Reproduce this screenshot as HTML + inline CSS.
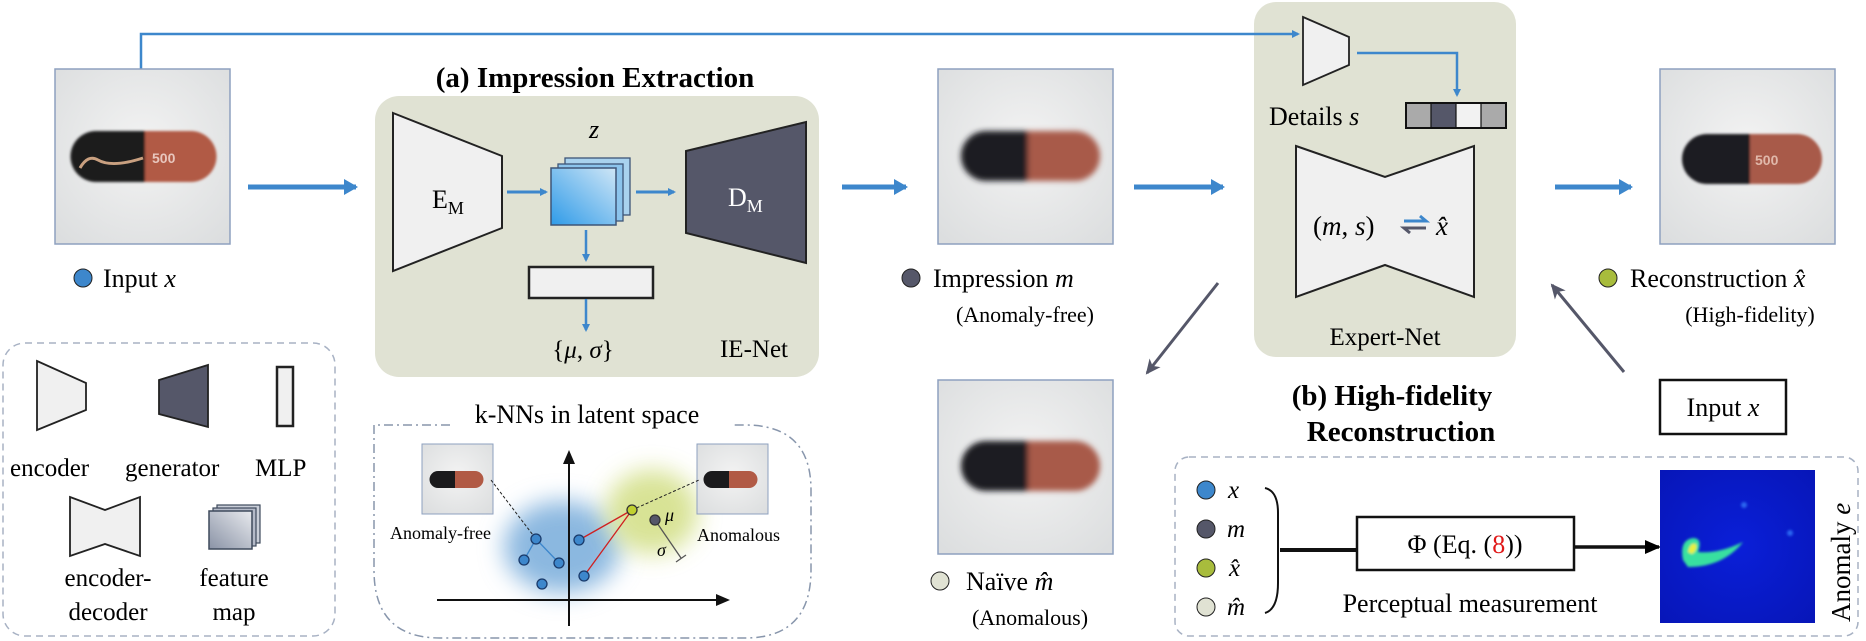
<!DOCTYPE html>
<html><head><meta charset="utf-8"><style>
html,body{margin:0;padding:0;background:#fff;}
svg{display:block;font-family:"Liberation Serif",serif;}
</style></head><body>
<svg width="1866" height="641" viewBox="0 0 1866 641" xmlns="http://www.w3.org/2000/svg">
<defs>
<radialGradient id="bg" cx="50%" cy="45%" r="70%"><stop offset="0" stop-color="#f3f3f3"/><stop offset="1" stop-color="#dcdedf"/></radialGradient>
<filter id="bl" x="-20%" y="-20%" width="140%" height="140%"><feGaussianBlur stdDeviation="3"/></filter>
<filter id="bl2" x="-20%" y="-20%" width="140%" height="140%"><feGaussianBlur stdDeviation="1.2"/></filter>
<filter id="bb" x="-50%" y="-50%" width="200%" height="200%"><feGaussianBlur stdDeviation="12"/></filter>
<linearGradient id="fm" x1="1" y1="0" x2="0" y2="1"><stop offset="0" stop-color="#cfe6f6"/><stop offset="1" stop-color="#2f9be8"/></linearGradient>
<linearGradient id="fm2" x1="1" y1="0" x2="0" y2="1"><stop offset="0" stop-color="#e8eaee"/><stop offset="1" stop-color="#8a93a6"/></linearGradient>
<radialGradient id="hm" cx="50%" cy="50%" r="70%"><stop offset="0" stop-color="#0a1fd8"/><stop offset="1" stop-color="#0716b8"/></radialGradient>
<marker id="ab" markerWidth="8" markerHeight="8" refX="6" refY="4" orient="auto" markerUnits="userSpaceOnUse"><path d="M0,0 L8,4 L0,8 z" fill="#3d87cc"/></marker>
<marker id="abb" markerWidth="14" markerHeight="16" refX="12" refY="8" orient="auto" markerUnits="userSpaceOnUse"><path d="M0,0 L14,8 L0,16 z" fill="#3d87cc"/></marker>
<marker id="ag" markerWidth="16" markerHeight="16" refX="13" refY="8" orient="auto" markerUnits="userSpaceOnUse"><path d="M0,1 L15,8 L0,15 L4,8 z" fill="#555769"/></marker>
<marker id="ak" markerWidth="16" markerHeight="14" refX="14" refY="7" orient="auto" markerUnits="userSpaceOnUse"><path d="M0,0 L16,7 L0,14 z" fill="#000"/></marker>
</defs>

<rect x="375" y="96" width="444" height="281" rx="24" fill="#e0e2d3"/>
<rect x="1254" y="2" width="262" height="355" rx="22" fill="#e0e2d3"/>

<polyline points="141,69 141,34 1298,34" fill="none" stroke="#3d87cc" stroke-width="2.5" marker-end="url(#ab)"/>

<g>
<rect x="55" y="69" width="175" height="175" fill="url(#bg)" stroke="#8ea0bf" stroke-width="1.5"/>
<g filter="url(#bl2)"><path d="M96,131 h49 v51 h-49 a25.5,25.5 0 0 1 0,-51z" fill="#1a1a1c"/><path d="M145,131 h46 a25.5,25.5 0 0 1 0,51 h-46z" fill="#b15a45"/></g>
<text x="152" y="163" font-family="Liberation Sans" font-size="14" font-weight="bold" fill="#e8c6bd">500</text>
<path d="M80,168 q8,-14 18,-8 q14,8 45,-2" stroke="#c9a080" stroke-width="3" fill="none"/>
</g>
<g>
<rect x="938" y="69" width="175" height="175" fill="url(#bg)" stroke="#8ea0bf" stroke-width="1.5"/>
<g filter="url(#bl)"><path d="M986,131 h42 v50 h-42 a25,25 0 0 1 0,-50z" fill="#1e1e22"/><path d="M1028,131 h47 a25,25 0 0 1 0,50 h-47z" fill="#a85a48"/></g>
</g>
<g>
<rect x="938" y="380" width="175" height="174" fill="url(#bg)" stroke="#8ea0bf" stroke-width="1.5"/>
<g filter="url(#bl)"><path d="M986,441 h42 v50 h-42 a25,25 0 0 1 0,-50z" fill="#1e1e22"/><path d="M1028,441 h47 a25,25 0 0 1 0,50 h-47z" fill="#a85a48"/></g>
</g>
<g>
<rect x="1660" y="69" width="175" height="175" fill="url(#bg)" stroke="#8ea0bf" stroke-width="1.5"/>
<g filter="url(#bl2)"><path d="M1707,134 h43 v50 h-43 a25,25 0 0 1 0,-50z" fill="#1e1e22"/><path d="M1750,134 h47 a25,25 0 0 1 0,50 h-47z" fill="#a85a48"/></g>
<text x="1755" y="165" font-family="Liberation Sans" font-size="14" font-weight="bold" fill="#e0b8aa">500</text>
</g>

<g stroke="#3d87cc" stroke-width="5" fill="none">
<line x1="248" y1="187" x2="356" y2="187" marker-end="url(#abb)"/>
<line x1="842" y1="187" x2="906" y2="187" marker-end="url(#abb)"/>
<line x1="1134" y1="187" x2="1223" y2="187" marker-end="url(#abb)"/>
<line x1="1555" y1="187" x2="1631" y2="187" marker-end="url(#abb)"/>
</g>

<text x="595" y="87" font-size="29" font-weight="bold" text-anchor="middle">(a) Impression Extraction</text>
<polygon points="393,113 502,156 502,228 393,271" fill="#f0f0f0" stroke="#222" stroke-width="2"/>
<text x="432" y="208" font-size="26">E<tspan font-size="18" dy="6">M</tspan></text>
<line x1="507" y1="192" x2="546" y2="192" stroke="#3d87cc" stroke-width="3" marker-end="url(#ab)"/>
<rect x="565" y="158" width="65" height="57" fill="#a9d2ee" stroke="#3e5577" stroke-width="1.3"/>
<rect x="558" y="164" width="65" height="57" fill="#8cc4ec" stroke="#3e5577" stroke-width="1.3"/>
<rect x="551" y="168" width="65" height="57" fill="url(#fm)" stroke="#3e5577" stroke-width="1.5"/>
<text x="594" y="138" font-size="26" font-style="italic" text-anchor="middle">z</text>
<line x1="636" y1="192" x2="674" y2="192" stroke="#3d87cc" stroke-width="3" marker-end="url(#ab)"/>
<polygon points="686,151 806,122 806,263 686,233" fill="#555769" stroke="#222" stroke-width="2"/>
<text x="728" y="206" font-size="26" fill="#fff">D<tspan font-size="18" dy="6">M</tspan></text>
<line x1="586" y1="230" x2="586" y2="260" stroke="#3d87cc" stroke-width="2.5" marker-end="url(#ab)"/>
<rect x="529" y="267" width="124" height="31" fill="#f0f0f0" stroke="#222" stroke-width="2.5"/>
<line x1="586" y1="299" x2="586" y2="330" stroke="#3d87cc" stroke-width="2.5" marker-end="url(#ab)"/>
<text x="583" y="358" font-size="25" text-anchor="middle">{<tspan font-style="italic">μ</tspan>, <tspan font-style="italic">σ</tspan>}</text>
<text x="754" y="357" font-size="25" text-anchor="middle">IE-Net</text>

<polygon points="1303,17 1349,37 1349,65 1303,85" fill="#f0f0f0" stroke="#222" stroke-width="1.8"/>
<polyline points="1357,53 1457,53 1457,95" fill="none" stroke="#3d87cc" stroke-width="2.5" marker-end="url(#ab)"/>
<text x="1269" y="125" font-size="26">Details <tspan font-style="italic">s</tspan></text>
<rect x="1406" y="103" width="25" height="25" fill="#aaaaaa"/><rect x="1431" y="103" width="25" height="25" fill="#555769"/><rect x="1456" y="103" width="25" height="25" fill="#f2f2f2"/><rect x="1481" y="103" width="25" height="25" fill="#aaaaaa"/>
<rect x="1406" y="103" width="100" height="25" fill="none" stroke="#111" stroke-width="2"/>
<g stroke="#111" stroke-width="1.2"><line x1="1431" y1="103" x2="1431" y2="128"/><line x1="1456" y1="103" x2="1456" y2="128"/><line x1="1481" y1="103" x2="1481" y2="128"/></g>
<polygon points="1296,146 1385,177 1474,146 1474,297 1385,265 1296,297" fill="#f0f0f0" stroke="#222" stroke-width="2"/>
<text x="1313" y="235" font-size="27">(<tspan font-style="italic">m</tspan>, <tspan font-style="italic">s</tspan>)</text>
<path d="M1404,221 h22 l-6,-5" stroke="#3d87cc" stroke-width="3" fill="none"/>
<path d="M1426,228 h-22 l6,5" stroke="#555769" stroke-width="3" fill="none"/>
<text x="1436" y="235" font-size="27" font-style="italic">x̂</text>
<text x="1385" y="345" font-size="25" text-anchor="middle">Expert-Net</text>

<circle cx="83" cy="278" r="9" fill="#3d87cc" stroke="#222" stroke-width="1"/>
<text x="103" y="287" font-size="26">Input <tspan font-style="italic">x</tspan></text>
<circle cx="911" cy="278" r="9" fill="#555769" stroke="#222" stroke-width="1"/>
<text x="933" y="287" font-size="26">Impression <tspan font-style="italic">m</tspan></text>
<text x="1025" y="322" font-size="22" text-anchor="middle">(Anomaly-free)</text>
<circle cx="1608" cy="278" r="9" fill="#a8bc3c" stroke="#222" stroke-width="1"/>
<text x="1630" y="287" font-size="26">Reconstruction <tspan font-style="italic">x̂</tspan></text>
<text x="1750" y="322" font-size="22" text-anchor="middle">(High-fidelity)</text>
<circle cx="940" cy="581" r="9" fill="#e0e2d3" stroke="#222" stroke-width="1"/>
<text x="966" y="590" font-size="26">Naïve <tspan font-style="italic">m̂</tspan></text>
<text x="1030" y="625" font-size="22" text-anchor="middle">(Anomalous)</text>

<line x1="1218" y1="283" x2="1147" y2="373" stroke="#555769" stroke-width="3" marker-end="url(#ag)"/>
<line x1="1624" y1="372" x2="1552" y2="285" stroke="#555769" stroke-width="3" marker-end="url(#ag)"/>

<text x="1392" y="405" font-size="29" font-weight="bold" text-anchor="middle">(b) High-fidelity</text>
<text x="1401" y="441" font-size="29" font-weight="bold" text-anchor="middle">Reconstruction</text>
<rect x="1660" y="380" width="126" height="54" fill="#fff" stroke="#111" stroke-width="2.5"/>
<text x="1723" y="416" font-size="26" text-anchor="middle">Input <tspan font-style="italic">x</tspan></text>

<rect x="1175" y="457" width="683" height="179" rx="14" fill="none" stroke="#a8b2c4" stroke-width="1.5" stroke-dasharray="7,5"/>
<circle cx="1206" cy="490" r="9" fill="#3d87cc" stroke="#222"/><text x="1228" y="498" font-size="25" font-style="italic">x</text>
<circle cx="1206" cy="529" r="9" fill="#555769" stroke="#222"/><text x="1227" y="537" font-size="25" font-style="italic">m</text>
<circle cx="1206" cy="568" r="9" fill="#a8bc3c" stroke="#222"/><text x="1229" y="576" font-size="25" font-style="italic">x̂</text>
<circle cx="1206" cy="607" r="9" fill="#e0e2d3" stroke="#222"/><text x="1227" y="615" font-size="25" font-style="italic">m̂</text>
<path d="M1265,488 q13,3 13,25 v70 q0,26 -13,30" fill="none" stroke="#111" stroke-width="2"/>
<line x1="1280" y1="550" x2="1357" y2="550" stroke="#111" stroke-width="4"/>
<rect x="1357" y="517" width="217" height="53" fill="#fff" stroke="#111" stroke-width="2.5"/>
<text x="1465" y="553" font-size="26" text-anchor="middle">Φ (Eq. (<tspan fill="#e01818">8</tspan>))</text>
<line x1="1574" y1="547" x2="1659" y2="547" stroke="#111" stroke-width="3.5" marker-end="url(#ak)"/>
<text x="1470" y="612" font-size="26" text-anchor="middle">Perceptual measurement</text>
<rect x="1660" y="470" width="155" height="153" fill="url(#hm)"/>
<g filter="url(#bl2)"><path d="M1683,560 q-4,-20 10,-22 q10,0 5,14 q20,2 45,-10 q-20,25 -55,25z" fill="#38e0a0"/><path d="M1688,552 q2,-10 8,-8 q2,6 -4,10z" fill="#e8f040"/><circle cx="1744" cy="505" r="3" fill="#2a66f0"/><circle cx="1790" cy="533" r="3" fill="#2a66f0"/></g>
<text transform="translate(1850,622) rotate(-90)" font-size="27">Anomaly <tspan font-style="italic">e</tspan></text>

<rect x="3" y="343" width="332" height="293" rx="22" fill="none" stroke="#a8b2c4" stroke-width="1.5" stroke-dasharray="7,5"/>
<polygon points="37,361 86,383 86,410 37,430" fill="#f0f0f0" stroke="#222" stroke-width="1.8"/>
<polygon points="159,380 208,365 208,427 159,414" fill="#555769" stroke="#222" stroke-width="1.8"/>
<rect x="277" y="367" width="16" height="59" fill="#f0f0f0" stroke="#222" stroke-width="2.5"/>
<text x="10" y="476" font-size="25">encoder</text>
<text x="125" y="476" font-size="25">generator</text>
<text x="255" y="476" font-size="25">MLP</text>
<polygon points="70,497 105,510 140,497 140,556 105,544 70,556" fill="#f0f0f0" stroke="#222" stroke-width="1.8"/>
<rect x="217" y="505" width="43" height="38" fill="#c9ced8" stroke="#3e4a5c" stroke-width="1.2"/>
<rect x="213" y="508" width="43" height="38" fill="#b4bac8" stroke="#3e4a5c" stroke-width="1.2"/>
<rect x="209" y="511" width="43" height="38" fill="url(#fm2)" stroke="#3e4a5c" stroke-width="1.5"/>
<text x="108" y="586" font-size="25" text-anchor="middle">encoder-</text>
<text x="108" y="620" font-size="25" text-anchor="middle">decoder</text>
<text x="234" y="586" font-size="25" text-anchor="middle">feature</text>
<text x="234" y="620" font-size="25" text-anchor="middle">map</text>

<text x="587" y="423" font-size="26" text-anchor="middle">k-NNs in latent space</text>
<path d="M450,425 H374 V570 Q374,638 440,638 H745 Q811,638 811,570 V490 Q811,425 745,425 H732" fill="none" stroke="#8896ac" stroke-width="1.5" stroke-dasharray="9,4,2,4"/>
<ellipse cx="562" cy="547" rx="58" ry="46" fill="#8bb8e0" filter="url(#bb)"/>
<ellipse cx="652" cy="512" rx="46" ry="42" fill="#d4e08a" filter="url(#bb)" opacity="0.9"/>
<line x1="437" y1="600" x2="722" y2="600" stroke="#111" stroke-width="2"/><path d="M730,600 l-14,-6 v12z" fill="#111"/>
<line x1="569" y1="626" x2="569" y2="458" stroke="#111" stroke-width="2"/><path d="M569,450 l-6,14 h12z" fill="#111"/>
<rect x="422" y="444" width="71" height="70" fill="url(#bg)" stroke="#8ea0bf"/>
<path d="M438,471 h17 v17 h-17 a8.5,8.5 0 0 1 0,-17z" fill="#1a1a1c"/><path d="M455,471 h20 a8.5,8.5 0 0 1 0,17 h-20z" fill="#b15a45"/>
<rect x="697" y="444" width="71" height="70" fill="url(#bg)" stroke="#8ea0bf"/>
<path d="M712,471 h17 v17 h-17 a8.5,8.5 0 0 1 0,-17z" fill="#1a1a1c"/><path d="M729,471 h20 a8.5,8.5 0 0 1 0,17 h-20z" fill="#b15a45"/>
<line x1="491" y1="480" x2="536" y2="539" stroke="#222" stroke-width="1" stroke-dasharray="3,2"/>
<line x1="632" y1="510" x2="699" y2="480" stroke="#222" stroke-width="1" stroke-dasharray="3,2"/>
<g stroke="#3d87cc" stroke-width="1.3"><line x1="536" y1="539" x2="524" y2="560"/><line x1="536" y1="539" x2="559" y2="563"/></g>
<g stroke="#d02020" stroke-width="1.3"><line x1="632" y1="510" x2="579" y2="540"/><line x1="632" y1="510" x2="584" y2="576"/></g>
<line x1="655" y1="520" x2="681" y2="558" stroke="#555" stroke-width="1.3"/><line x1="676" y1="562" x2="686" y2="555" stroke="#555" stroke-width="1.3"/>
<g stroke="#1a3a6a" stroke-width="1.3" fill="#3d87cc"><circle cx="536" cy="539" r="5"/><circle cx="524" cy="560" r="5"/><circle cx="559" cy="563" r="5"/><circle cx="542" cy="584" r="5"/><circle cx="579" cy="540" r="5"/><circle cx="584" cy="576" r="5"/></g>
<circle cx="632" cy="510" r="5" fill="#c0d030" stroke="#333" stroke-width="1.3"/>
<circle cx="655" cy="520" r="5" fill="#555769" stroke="#333" stroke-width="1.3"/>
<text x="665" y="521" font-size="18" font-style="italic">μ</text>
<text x="657" y="556" font-size="18" font-style="italic">σ</text>
<text x="390" y="539" font-size="18">Anomaly-free</text>
<text x="697" y="541" font-size="18">Anomalous</text>
</svg>
</body></html>
